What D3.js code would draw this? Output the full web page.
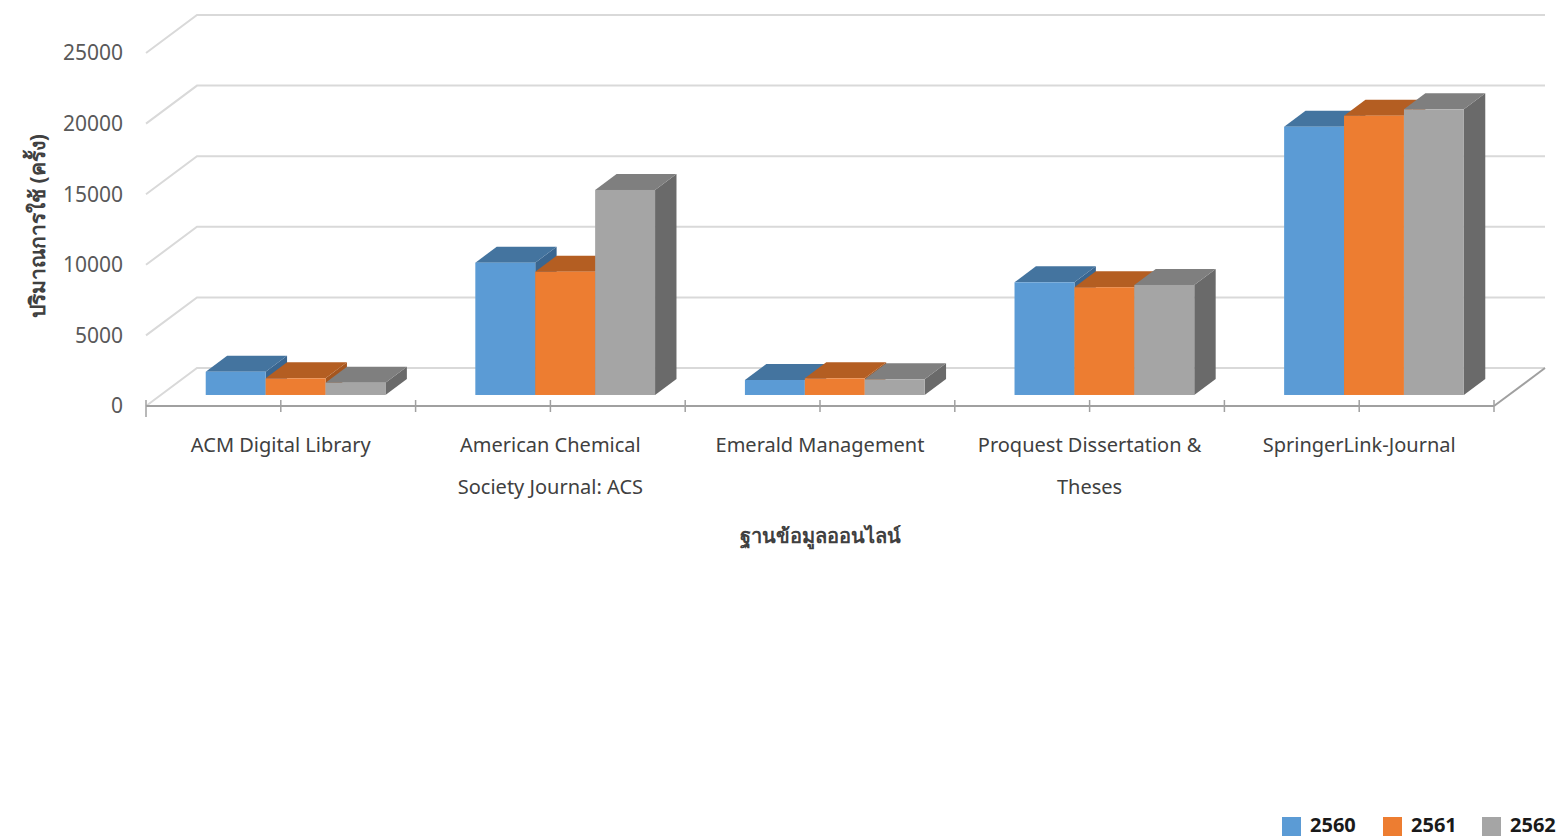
<!DOCTYPE html>
<html>
<head>
<meta charset="utf-8">
<script src="https://cdnjs.cloudflare.com/ajax/libs/d3/7.8.5/d3.min.js"></script>
<style>
  html, body { margin: 0; padding: 0; background: #fff; }
  svg { display: block; font-family: "Noto Sans", "Open Sans", sans-serif; }
</style>
</head>
<body>
<div id="chart"></div>
<script>
// data
const categories = [
  ['ACM Digital Library'],
  ['American Chemical', 'Society Journal: ACS'],
  ['Emerald Management'],
  ['Proquest Dissertation &', 'Theses'],
  ['SpringerLink-Journal']
];
const seriesNames = ['2560', '2561', '2562'];
const values2560 = [1650, 9370, 1060, 7980, 19000];
const values2561 = [1180, 8730, 1180, 7630, 19780];
const values2562 = [870, 14520, 1110, 7790, 20230];
const yTicks = [0, 5000, 10000, 15000, 20000, 25000];

const seriesValues = [values2560, values2561, values2562];
const colors = {
  front: ['#5b9bd5', '#ed7d31', '#a5a5a5'],
  top:   ['#44749f', '#b45e22', '#7f7f7f'],
  side:  ['#3a6690', '#a5561f', '#6a6a6a']
};

const width = 1560, height = 837;
const svg = d3.select('#chart').append('svg')
  .attr('width', width)
  .attr('height', height);

// plot frame (front plane) and depth vector
const left = 146, right = 1494;
const depthX = 51, depthY = 38;
const barFront = 0.29, barBack = 0.71;

const x = d3.scaleBand()
  .domain(d3.range(categories.length))
  .range([left, right]);

const xs = d3.scaleBand()
  .domain(d3.range(seriesNames.length))
  .range([0, x.bandwidth()])
  .paddingOuter(0.75);

const y = d3.scaleLinear()
  .domain([0, 25000])
  .range([406, 53]);

// back wall gridlines
const grid = svg.append('g');
yTicks.forEach(t => {
  grid.append('polyline')
    .attr('points', `${left},${y(t)} ${left + depthX},${y(t) - depthY} ${right + depthX},${y(t) - depthY}`)
    .attr('fill', 'none')
    .attr('stroke', '#d9d9d9')
    .attr('stroke-width', 2);
});

// floor right edge
svg.append('line')
  .attr('x1', right).attr('y1', y(0))
  .attr('x2', right + depthX).attr('y2', y(0) - depthY)
  .attr('stroke', '#a0a0a0')
  .attr('stroke-width', 2);

// bars, drawn left to right so later ones cover earlier side faces
const bars = svg.append('g');
categories.forEach((c, ci) => {
  seriesNames.forEach((s, si) => {
    const v = seriesValues[si][ci];
    const x0 = x(ci) + xs(si) + barFront * depthX;
    const x1 = x0 + xs.bandwidth();
    const yb = y(0) - barFront * depthY;
    const yt = y(v) - barFront * depthY;
    const dx = (barBack - barFront) * depthX;
    const dy = (barBack - barFront) * depthY;

    // side
    bars.append('path')
      .attr('d', `M${x1},${yb}L${x1 + dx},${yb - dy}L${x1 + dx},${yt - dy}L${x1},${yt}Z`)
      .attr('fill', colors.side[si]);
    // top
    bars.append('path')
      .attr('d', `M${x0},${yt}L${x0 + dx},${yt - dy}L${x1 + dx},${yt - dy}L${x1},${yt}Z`)
      .attr('fill', colors.top[si]);
    // front
    bars.append('rect')
      .attr('x', x0)
      .attr('y', yt)
      .attr('width', x1 - x0)
      .attr('height', yb - yt)
      .attr('fill', colors.front[si]);
  });
});

// x axis line and ticks (boundaries and centers)
svg.append('line')
  .attr('x1', left).attr('y1', y(0))
  .attr('x2', right).attr('y2', y(0))
  .attr('stroke', '#a0a0a0')
  .attr('stroke-width', 2);

const tickXs = [];
categories.forEach((c, ci) => {
  tickXs.push(x(ci));
  tickXs.push(x(ci) + x.bandwidth() / 2);
});
tickXs.push(right);
tickXs.forEach(tx => {
  svg.append('line')
    .attr('x1', tx).attr('y1', y(0) - 6)
    .attr('x2', tx).attr('y2', y(0) + (tx === left ? 11 : 6))
    .attr('stroke', '#a0a0a0')
    .attr('stroke-width', 1.5);
});

// y tick labels
svg.append('g').selectAll('text')
  .data(yTicks)
  .join('text')
  .attr('x', 123)
  .attr('y', d => y(d))
  .attr('dy', '0.35em')
  .attr('text-anchor', 'end')
  .attr('font-size', '21px')
  .attr('fill', '#595959')
  .text(d => d);

// x category labels
categories.forEach((lines, ci) => {
  const t = svg.append('text')
    .attr('x', x(ci) + x.bandwidth() / 2)
    .attr('y', 452)
    .attr('text-anchor', 'middle')
    .attr('font-size', '20px')
    .attr('fill', '#404040');
  lines.forEach((ln, li) => {
    t.append('tspan')
      .attr('x', x(ci) + x.bandwidth() / 2)
      .attr('dy', li === 0 ? 0 : 42)
      .text(ln);
  });
});

// axis titles
svg.append('text')
  .attr('x', (left + right) / 2)
  .attr('y', 543)
  .attr('text-anchor', 'middle')
  .attr('font-size', '20px')
  .attr('font-weight', 'bold')
  .attr('fill', '#404040')
  .text('ฐานข้อมูลออนไลน์');

svg.append('text')
  .attr('transform', 'translate(45,226) rotate(-90)')
  .attr('text-anchor', 'middle')
  .attr('font-size', '21px')
  .attr('font-weight', 'bold')
  .attr('fill', '#404040')
  .text('ปริมาณการใช้ (ครั้ง)');

// legend
const legendX = [1282, 1383, 1482];
const legend = svg.append('g');
seriesNames.forEach((s, si) => {
  legend.append('rect')
    .attr('x', legendX[si])
    .attr('y', 817)
    .attr('width', 19)
    .attr('height', 19)
    .attr('fill', colors.front[si]);
  legend.append('text')
    .attr('x', legendX[si] + 28)
    .attr('y', 832)
    .attr('font-size', '20px')
    .attr('font-weight', 'bold')
    .attr('fill', '#1a1a1a')
    .text(s);
});
</script>
</body>
</html>
